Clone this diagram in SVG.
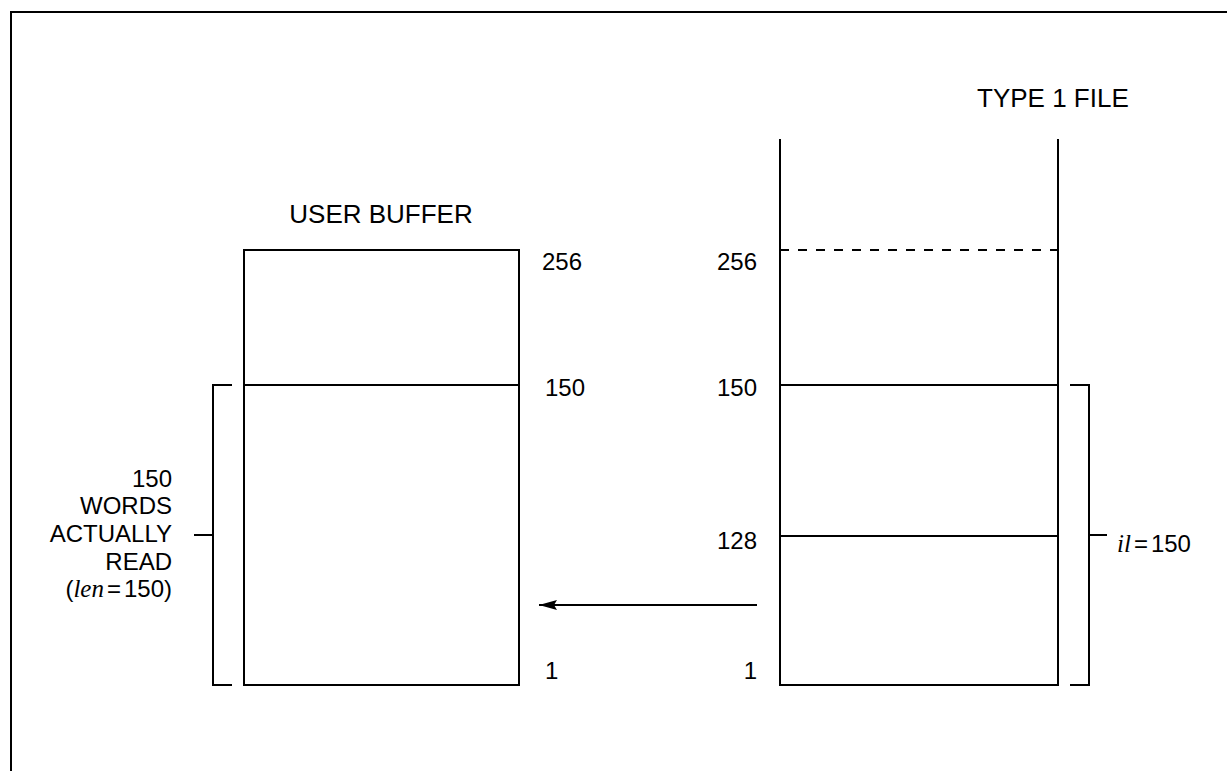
<svg xmlns="http://www.w3.org/2000/svg" width="1227" height="771" viewBox="0 0 1227 771">
  <defs>
    <style>
      .ln { stroke: #000; stroke-width: 2; fill: none; }
      .dash { stroke: #000; stroke-width: 2; fill: none; stroke-dasharray: 9 9; }
      .t { font-family: "Liberation Sans", Arial, sans-serif; font-size: 24px; fill: #000; }
      .title { font-size: 26px; }
      .it { font-family: "Liberation Serif", "Times New Roman", serif; font-style: italic; font-size: 25px; }
    </style>
    <marker id="head" viewBox="0 0 18 10" refX="18" refY="5" markerWidth="18" markerHeight="10" markerUnits="userSpaceOnUse" orient="auto">
      <path d="M0,0 L18,5 L0,10 L3,5 Z" fill="#000"/>
    </marker>
  </defs>
  <rect width="1227" height="771" fill="#fff"/>

  <!-- outer frame (runs off the right and bottom edges) -->
  <path class="ln" d="M11,780 V12 H1240" stroke-width="3"/>

  <!-- user buffer -->
  <g id="user-buffer">
    <text class="t title" x="381" y="223" text-anchor="middle">USER BUFFER</text>
    <rect class="ln" x="244" y="250" width="275" height="435"/>
    <line class="ln" x1="244" y1="385" x2="519" y2="385"/>
    <text class="t" x="542" y="270">256</text>
    <text class="t" x="545" y="396">150</text>
    <text class="t" x="545" y="679">1</text>
  </g>

  <!-- bracket for words read -->
  <g id="words-read">
    <path class="ln" d="M232,385 H213 V685 H232"/>
    <line class="ln" x1="194" y1="535" x2="213" y2="535"/>
    <g class="t" text-anchor="end">
      <text x="172" y="487">150</text>
      <text x="172" y="514">WORDS</text>
      <text x="172" y="542">ACTUALLY</text>
      <text x="172" y="570">READ</text>
      <text x="172" y="597">(<tspan class="it">len</tspan><tspan dx="3">=</tspan><tspan dx="3">150)</tspan></text>
    </g>
  </g>

  <!-- type 1 file -->
  <g id="type1-file">
    <text class="t title" x="977" y="107">TYPE 1 FILE</text>
    <line class="ln" x1="780" y1="139" x2="780" y2="686"/>
    <line class="ln" x1="1058" y1="139" x2="1058" y2="686"/>
    <line class="dash" x1="780" y1="250" x2="1058" y2="250"/>
    <line class="ln" x1="780" y1="385" x2="1058" y2="385"/>
    <line class="ln" x1="780" y1="536" x2="1058" y2="536"/>
    <line class="ln" x1="780" y1="685" x2="1058" y2="685"/>
    <g class="t" text-anchor="end">
      <text x="757" y="270">256</text>
      <text x="757" y="396">150</text>
      <text x="757" y="549">128</text>
      <text x="757" y="679">1</text>
    </g>
  </g>

  <!-- bracket for il -->
  <g id="il-bracket">
    <path class="ln" d="M1070,385 H1089 V685 H1070"/>
    <line class="ln" x1="1089" y1="535" x2="1107" y2="535"/>
    <text class="t" x="1117" y="552"><tspan class="it">il</tspan><tspan dx="3">=</tspan><tspan dx="3">150</tspan></text>
  </g>

  <!-- transfer arrow -->
  <g id="connectors">
    <line class="ln" x1="757" y1="605" x2="539" y2="605" marker-end="url(#head)"/>
  </g>
</svg>
